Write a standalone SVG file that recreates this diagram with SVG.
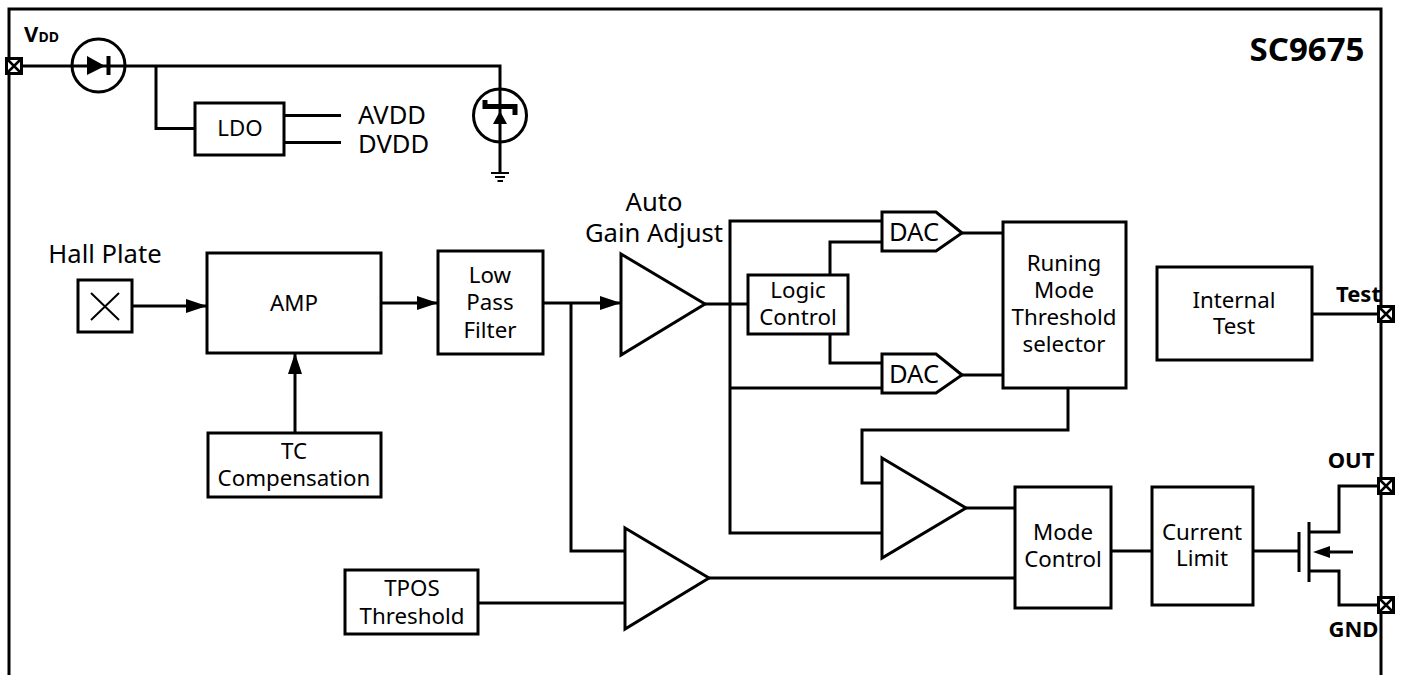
<svg xmlns="http://www.w3.org/2000/svg" width="1402" height="675" viewBox="0 0 1402 675">
<style>
.b{fill:#fff;stroke:#000;stroke-width:3;stroke-linejoin:miter}
.w{fill:none;stroke:#000;stroke-width:3;stroke-linejoin:miter}
.t{font-family:"Noto Sans","Open Sans","DejaVu Sans",sans-serif;font-size:22.300px;fill:#000;text-anchor:middle}
.l{font-size:25.600px}
.s{text-anchor:start}
.p{font-family:"Noto Sans","Open Sans","DejaVu Sans",sans-serif;font-size:22px;font-weight:700;fill:#000;text-anchor:middle}
.h{fill:#000;stroke:none}
.x{fill:#fff;stroke:#000;stroke-width:3}
</style>
<defs>
<marker id="a" markerUnits="userSpaceOnUse" markerWidth="22" markerHeight="14" refX="21" refY="7" orient="auto"><path d="M0 0L21 7L0 14Z" fill="#000"/></marker>
<g id="pad"><rect class="x" x="-7.500" y="-7.500" width="15" height="15"/><path d="M-7-7L7 7M7-7L-7 7" stroke="#000" stroke-width="2.500" fill="none"/></g>
</defs>
<g id="frame"><path class="w" d="M9 675V9H1381V675"/></g>
<g id="connectors">
<path class="w" d="M14 66H500V173"/>
<path class="w" d="M156 66V128.500H195"/>
<path class="w" d="M284 115.500H341M284 142.500H341"/>
<path class="w" d="M132 306H207" marker-end="url(#a)"/>
<path class="w" d="M295 433V353" marker-end="url(#a)"/>
<path class="w" d="M381 303H438" marker-end="url(#a)"/>
<path class="w" d="M543 303H621" marker-end="url(#a)"/>
<path class="w" d="M705 304H748"/>
<path class="w" d="M882 221H730V533H882M730 388H882"/>
<path class="w" d="M830 275V242H882M830 334V363H882"/>
<path class="w" d="M962 233H1003M962 375H1003"/>
<path class="w" d="M1068 388V430H862V483H882"/>
<path class="w" d="M571 303V551H625"/>
<path class="w" d="M478 603H625"/>
<path class="w" d="M709 578H1015"/>
<path class="w" d="M966 508H1015"/>
<path class="w" d="M1111 551H1152M1253 551H1299"/>
<path class="w" d="M1312 314H1380"/>
<path class="w" d="M1309 532H1339V486H1380M1309 571H1339V605H1380"/>
</g>
<g id="vdd-pad"><use href="#pad" x="14" y="66"/><text class="p" x="41.500" y="42">V<tspan style="font-size:14px">DD</tspan></text></g>
<g id="diode"><circle class="w" cx="98.500" cy="65.500" r="26.500"/><path class="h" d="M87 56L105 66L87 75Z"/><path class="w" d="M108.500 56V75" style="stroke-width:4"/></g>
<g id="ldo"><rect class="b" x="195" y="103" width="89" height="52"/><text class="t" x="240" y="136">LDO</text></g>
<text class="t l s" x="358" y="124">AVDD<tspan x="358" y="153">DVDD</tspan></text>
<g id="zener"><circle class="w" cx="500" cy="115.500" r="26.500"/><path class="w" d="M485 100V106.500H515V115" style="stroke-width:5"/><path class="h" d="M500 111L493 124H507Z"/><path class="w" d="M491 173H509M495 177H505M497.500 181H503" style="stroke-width:2"/></g>
<text class="p" x="1307" y="61" style="font-size:33px">SC9675</text>
<g id="hall"><text class="t l" x="105" y="263">Hall Plate</text><rect class="b" x="78" y="280" width="54" height="52"/><path class="w" d="M91 293L119 320M119 293L91 320" style="stroke-width:2"/></g>
<g id="amp"><rect class="b" x="207" y="253" width="174" height="100"/><text class="t" x="294" y="311">AMP</text></g>
<g id="tc"><rect class="b" x="208" y="433" width="173" height="64"/><text class="t" x="294" y="459">TC<tspan x="294" y="486">Compensation</tspan></text></g>
<g id="lpf"><rect class="b" x="438" y="251" width="105" height="103"/><text class="t" x="490" y="283">Low<tspan x="490" y="310">Pass</tspan><tspan x="490" y="338">Filter</tspan></text></g>
<g id="aga"><path class="b" d="M621 254L705 304L621 355Z"/><text class="t l" x="654" y="211">Auto<tspan x="654" y="242">Gain Adjust</tspan></text></g>
<g id="logic"><rect class="b" x="748" y="275" width="100" height="59"/><text class="t" x="798" y="298">Logic<tspan x="798" y="325">Control</tspan></text></g>
<g id="dac1"><path class="b" d="M882 212H936L962 233L936 251H882Z"/><text class="t l" x="914" y="241">DAC</text></g>
<g id="dac2"><path class="b" d="M882 354H936L962 375L936 393H882Z"/><text class="t l" x="914" y="383">DAC</text></g>
<g id="sel"><rect class="b" x="1003" y="222" width="123" height="166"/><text class="t" x="1064" y="271">Runing<tspan x="1064" y="298">Mode</tspan><tspan x="1064" y="325">Threshold</tspan><tspan x="1064" y="352">selector</tspan></text></g>
<g id="test"><rect class="b" x="1157" y="267" width="155" height="93"/><text class="t" x="1234" y="308">Internal<tspan x="1234" y="334">Test</tspan></text></g>
<g id="cmp1"><path class="b" d="M882 458L966 508L882 558Z"/></g>
<g id="cmp2"><path class="b" d="M625 528L709 578L625 629Z"/></g>
<g id="tpos"><rect class="b" x="345" y="570" width="133" height="64"/><text class="t" x="412" y="596">TPOS<tspan x="412" y="624">Threshold</tspan></text></g>
<g id="mode"><rect class="b" x="1015" y="487" width="96" height="121"/><text class="t" x="1063" y="540">Mode<tspan x="1063" y="567">Control</tspan></text></g>
<g id="limit"><rect class="b" x="1152" y="487" width="101" height="118"/><text class="t" x="1202" y="540">Current<tspan x="1202" y="566">Limit</tspan></text></g>
<g id="mos"><path class="w" d="M1299 532V572"/><path class="w" d="M1309 522V582"/><path class="h" d="M1313 552L1330 546V558Z"/><path class="w" d="M1325 552H1353"/></g>
<g id="test-pad"><use href="#pad" x="1386" y="314"/><text class="p" x="1358.500" y="302">Test</text></g>
<g id="out-pad"><use href="#pad" x="1386" y="486"/><text class="p" x="1351" y="468">OUT</text></g>
<g id="gnd-pad"><use href="#pad" x="1386" y="605"/><text class="p" x="1353.500" y="637">GND</text></g>
</svg>
